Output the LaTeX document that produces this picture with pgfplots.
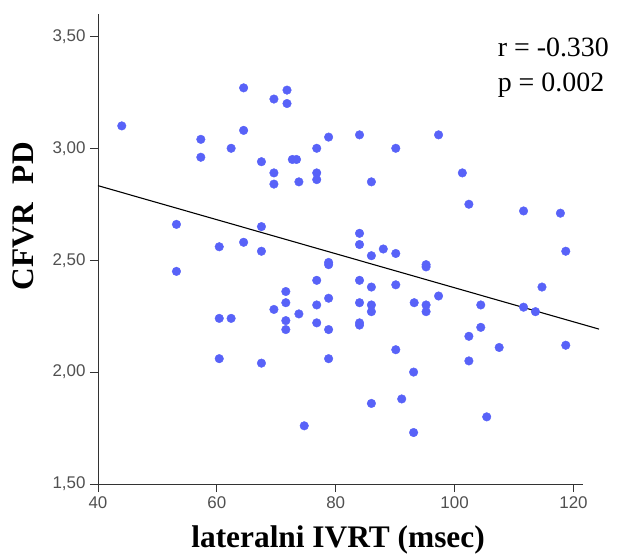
\documentclass[border=0pt]{standalone}
\usepackage{fontspec}
\setmainfont{Liberation Serif}
\newfontfamily\arialf{Liberation Sans}
\usepackage{pgfplots}
\pgfplotsset{compat=1.18}
\definecolor{dotblue}{RGB}{88,98,248}
\definecolor{tickgray}{RGB}{80,80,80}
\begin{document}
\begin{tikzpicture}
\begin{axis}[
  at={(0,0)}, anchor=south west,
  scale only axis, width=485bp, height=470bp,
  xmin=40, xmax=121.6, ymin=1.5, ymax=3.6,
  axis lines=left, axis line style={-, line width=0.9pt, black!80},
  xtick={40,60,80,100,120}, ytick={1.5,2,2.5,3,3.5},
  tick align=outside, major tick length=8bp,
  tick style={line width=0.9pt, black!80},
  /pgf/number format/assume math mode=true,
  yticklabel style={/pgf/number format/use comma, /pgf/number format/fixed, /pgf/number format/fixed zerofill, /pgf/number format/precision=2, xshift=-1bp},
  tick label style={font=\arialf\fontsize{17}{17}\selectfont, text=tickgray},
  xticklabel style={yshift=-1bp},
  xlabel={\bfseries lateralni IVRT (msec)},
  ylabel={\bfseries CFVR\hspace{0.6em}PD},
  label style={font=\fontsize{31.5}{31.5}\selectfont},
  xlabel style={at={(axis description cs:0.495,-0.119)}, anchor=center},
  ylabel style={at={(axis description cs:-0.153,0.570)}, anchor=center, rotate=0},
  clip=false,
]
\addplot[only marks, mark=*, mark size=4.3bp, color=dotblue, mark options={draw=none, fill=dotblue}] coordinates {
(44.0,3.10) (57.3,3.04) (57.3,2.96) (62.4,3.00) (64.5,3.27) (64.5,3.08)
(67.5,2.94) (71.8,3.26) (69.6,3.22) (71.8,3.20) (69.6,2.89) (69.6,2.84)
(72.7,2.95) (73.4,2.95) (73.8,2.85) (76.8,3.00) (76.8,2.89) (76.8,2.86)
(78.8,3.05) (84.0,3.06) (90.1,3.00) (86.0,2.85) (97.3,3.06) (101.3,2.89)
(102.4,2.75) (111.6,2.72) (117.8,2.71) (118.7,2.54) (95.2,2.47) (95.2,2.48)
(114.7,2.38) (93.2,2.31) (95.2,2.30) (95.2,2.27) (97.3,2.34) (104.4,2.30)
(111.6,2.29) (113.6,2.27) (104.4,2.20) (102.4,2.16) (107.5,2.11) (118.7,2.12)
(53.2,2.66) (60.4,2.56) (64.5,2.58) (67.5,2.65) (67.5,2.54) (53.2,2.45)
(60.4,2.24) (62.4,2.24) (84.0,2.62) (84.0,2.57) (86.0,2.52) (88.0,2.55)
(90.1,2.53) (78.8,2.49) (78.8,2.48) (76.8,2.41) (84.0,2.41) (86.0,2.38)
(90.1,2.39) (71.6,2.36) (71.6,2.31) (69.6,2.28) (73.8,2.26) (76.8,2.30)
(78.8,2.33) (84.0,2.31) (86.0,2.30) (86.0,2.27) (71.6,2.23) (71.6,2.19)
(76.8,2.22) (78.8,2.19) (84.0,2.21) (84.0,2.22) (90.1,2.10) (60.4,2.06)
(67.5,2.04) (78.8,2.06) (93.1,2.00) (91.1,1.88) (86.0,1.86) (74.7,1.76)
(93.1,1.73) (102.4,2.05) (105.4,1.80)
};
\addplot[black, line width=1.1pt] coordinates {(40,2.833) (124.3,2.192)};
\node[anchor=north west, align=left, font=\fontsize{28}{35}\selectfont, inner sep=0pt]
  at (axis description cs:0.824,0.95) {r = -0.330\\p = 0.002};
\end{axis}
\pgfresetboundingbox
\useasboundingbox (-98bp,-73bp) rectangle (528bp,484bp);
\end{tikzpicture}
\end{document}
